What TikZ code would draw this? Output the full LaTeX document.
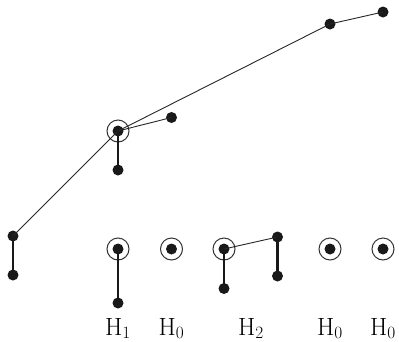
\documentclass[tikz,border=0pt]{standalone}
\usepackage{amsmath}
\begin{document}
\begin{tikzpicture}[x=1pt,y=-1pt,
  dot/.style={circle,fill=black!90,inner sep=0pt,minimum size=11pt},
  ring/.style={circle,draw=black!80,line width=1pt,inner sep=0pt,minimum size=22pt},
  thin/.style={line width=0.9pt,draw=black!85},
  thick/.style={line width=2.4pt,draw=black!90},
  lab/.style={anchor=base,inner sep=0pt,font=\fontsize{25}{30}\selectfont}]
\useasboundingbox (0,0) rectangle (399,341);
% top tree
\node[dot] (A) at (383,12) {};
\node[dot] (B) at (330,24) {};
\node[dot] (C) at (118,131) {};
\node[ring] (Cr) at (118,131) {};
\node[dot] (D) at (171.5,117.5) {};
\node[dot] (E) at (118,170) {};
\node[dot] (F) at (13,236) {};
\node[dot] (G) at (13,275) {};
\draw[thin] (C.center) -- (B.center) -- (A.center);
\draw[thin] (C.center) -- (D.center);
\draw[thin] (C.center) -- (F.center);
\draw[thick] (C.center) -- (E.center);
\draw[thick] (F.center) -- (G.center);
% bottom row
\node[dot] (P1) at (118,249) {};
\node[ring] (P1r) at (118,249) {};
\node[dot] (Q1) at (118,303) {};
\draw[thick] (P1.center) -- (Q1.center);
\node[dot] (P2) at (171.5,249) {};
\node[ring] (P2r) at (171.5,249) {};
\node[dot] (P3) at (224,249) {};
\node[ring] (P3r) at (224,249) {};
\node[dot] (Q3) at (224,288.5) {};
\node[dot] (R3) at (277.5,237) {};
\node[dot] (S3) at (277.5,276) {};
\draw[thick] (P3.center) -- (Q3.center);
\draw[thin] (P3.center) -- (R3.center);
\draw[thick] (R3.center) -- (S3.center);
\node[dot] (P4) at (330,249) {};
\node[ring] (P4r) at (330,249) {};
\node[dot] (P5) at (383,249) {};
\node[ring] (P5r) at (383,249) {};
% labels
\node[lab] (L1) at (118,335) {$\mathrm{H}_1$};
\node[lab] (L2) at (171.5,335) {$\mathrm{H}_0$};
\node[lab] (L3) at (251,335) {$\mathrm{H}_2$};
\node[lab] (L4) at (330,335) {$\mathrm{H}_0$};
\node[lab] (L5) at (383,335) {$\mathrm{H}_0$};
\end{tikzpicture}
\end{document}
